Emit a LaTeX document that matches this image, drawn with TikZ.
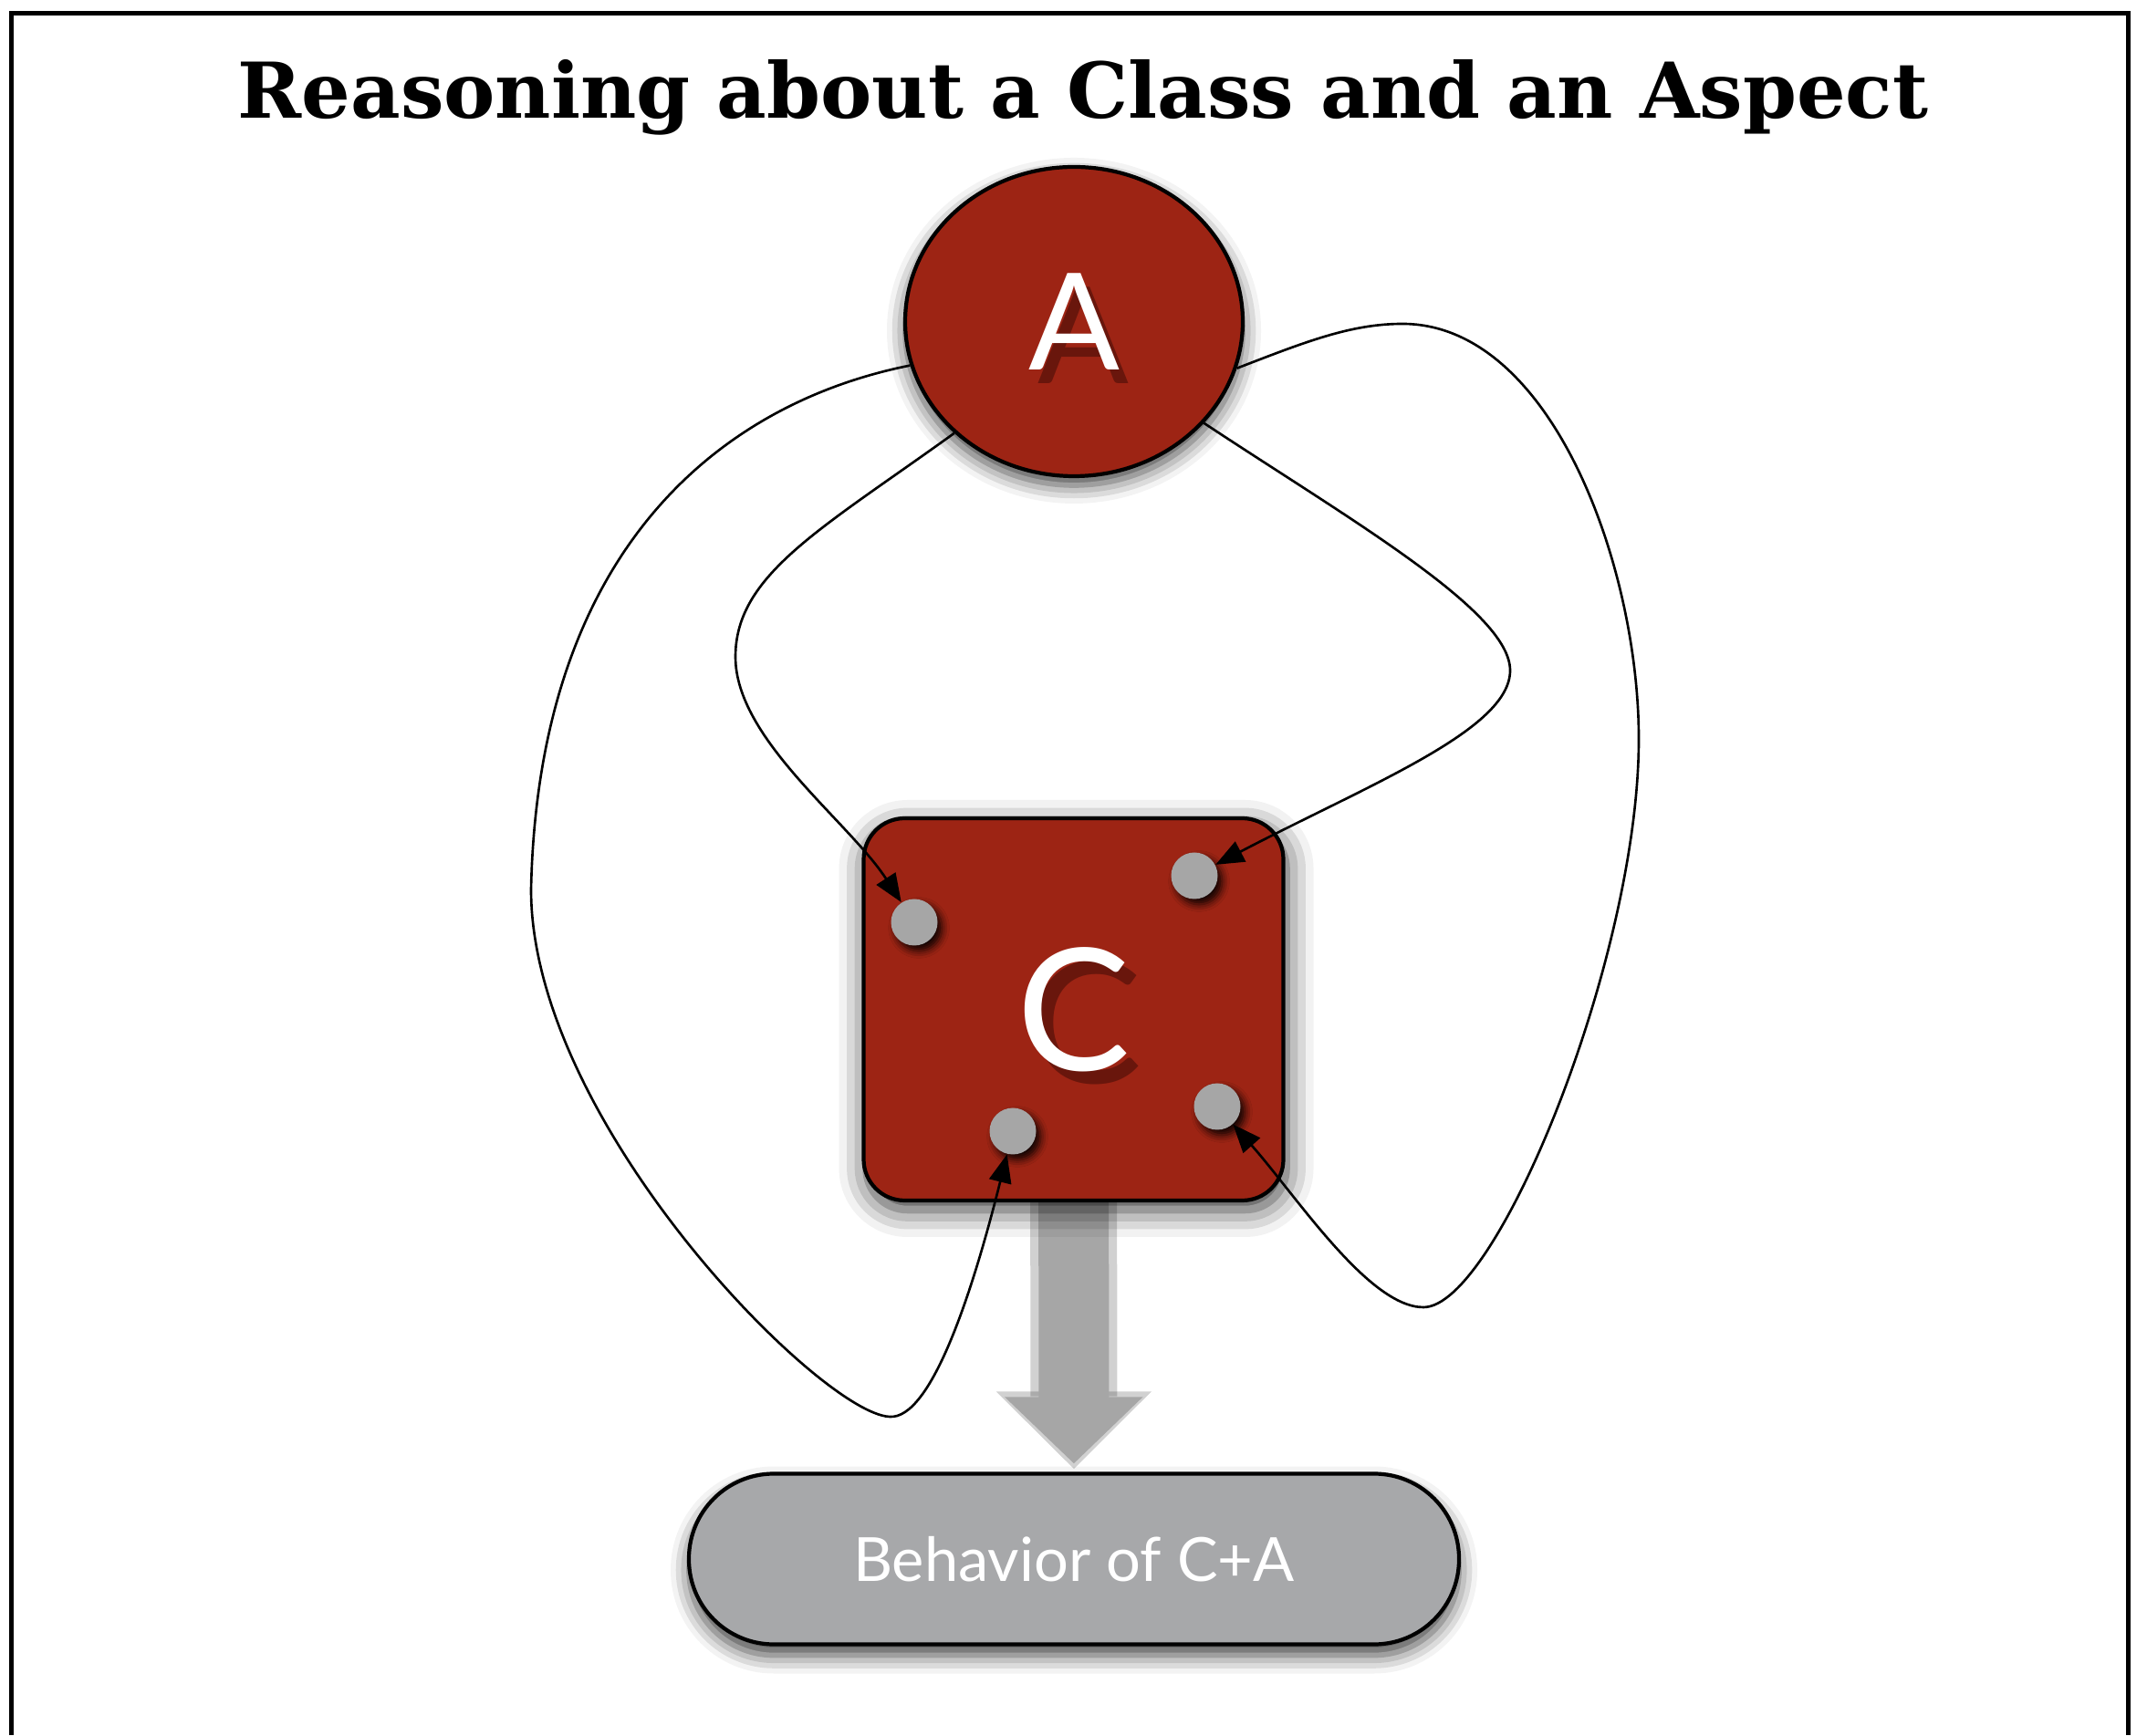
\documentclass[tikz,border=0pt]{standalone}
\usepackage{fontspec}
\newfontfamily\titlefont{DejaVu Serif}
\newfontfamily\gillfont{Lato}
\usetikzlibrary{arrows.meta,shapes.geometric,shadows.blur}
\definecolor{aspectred}{RGB}{157,36,20}
\definecolor{darkred}{RGB}{105,22,12}
\definecolor{dotgray}{RGB}{166,166,166}
\definecolor{pillgray}{RGB}{167,168,170}
\newcommand{\embossed}[4]{\makebox[0pt][l]{\hspace*{#3}\raisebox{#4}[0pt][0pt]{\color{#2}#1}}#1}
\pgfdeclarelayer{background}
\pgfsetlayers{background,main}
\begin{document}
\begin{tikzpicture}[
  aspect/.style={ellipse, draw, line width=1.2pt, fill=aspectred, text=white,
    minimum width=3.7cm, minimum height=3.39cm, inner sep=0pt,
    font=\gillfont\fontsize{42}{42}\selectfont,
    blur shadow={shadow xshift=0cm, shadow yshift=-0.1cm, shadow blur radius=0.2cm, shadow opacity=75}},
  classbox/.style={rectangle, rounded corners=0.45cm, draw, line width=1.2pt, fill=aspectred, text=white,
    minimum width=4.6cm, minimum height=4.19cm, inner sep=0pt,
    font=\gillfont\fontsize{53}{53}\selectfont,
    blur shadow={shadow xshift=0.03cm, shadow yshift=-0.1cm, shadow blur radius=0.3cm, shadow opacity=80}},
  joinpt/.style={circle, fill=dotgray, minimum size=0.51cm, inner sep=0pt,
    blur shadow={shadow xshift=0.05cm, shadow yshift=-0.06cm, shadow blur radius=0.08cm, shadow opacity=90}},
  result/.style={rectangle, rounded corners=0.93cm, draw, line width=1.2pt, fill=pillgray, text=white,
    minimum width=8.44cm, minimum height=1.87cm, inner sep=0pt,
    font=\gillfont\fontsize{19}{19}\selectfont,
    blur shadow={shadow xshift=0cm, shadow yshift=-0.12cm, shadow blur radius=0.2cm, shadow opacity=75}},
  advice/.style={line width=0.75pt, -{Triangle[length=8.8pt,width=7pt]}},
  flow/.style={line width=0.77cm, draw=dotgray, -{Triangle[length=7.3mm 0,width=14.7mm 0]}, shorten >=0.09cm,
    preaction={draw=black, opacity=0.18, line width=0.95cm, -{Triangle[length=8.5mm 0,width=16.5mm 0]}, shorten >=0.03cm}}
]
  \useasboundingbox (0,0) rectangle (23.53,19.02);
  \draw[line width=1.42pt] (0.125,0) -- (0.125,18.87) -- (23.32,18.87) -- (23.32,0);
  \node (title) at (11.87,17.72) [anchor=base] {\titlefont\bfseries\fontsize{24}{24}\selectfont Reasoning about a Class and an Aspect};
  \node (a) at (11.77,15.495) [aspect] {\embossed{A}{darkred}{0.10cm}{-0.15cm}};
  \node (c) at (11.765,7.955) [classbox] {\embossed{C}{darkred}{0.13cm}{-0.14cm}};
  \node (p1) at (10.02,8.91) [joinpt] {};
  \node (p2) at (13.09,9.42) [joinpt] {};
  \node (p3) at (11.10,6.62) [joinpt] {};
  \node (p4) at (13.34,6.89) [joinpt] {};
  \node (beh) at (11.77,1.93) [result] {Behavior of C+A};
  \begin{pgfonlayer}{background}
    \draw[flow] (c) -- (beh);
  \end{pgfonlayer}
  \draw[advice] (a.195) .. controls (7.90,14.60) and (5.90,13.00) .. (5.82,9.27)
    .. controls (5.82,6.72) and (9.00,3.52) .. (9.75,3.49)
    .. controls (10.20,3.46) and (10.65,4.82) .. (p3);
  \draw[advice] (a.223) .. controls (9.00,13.22) and (8.06,12.72) .. (8.06,11.82)
    .. controls (8.06,10.92) and (9.30,10.02) .. (p1);
  \draw[advice] (a.322) .. controls (14.80,13.32) and (16.55,12.32) .. (16.55,11.67)
    .. controls (16.55,11.02) and (15.00,10.42) .. (p2);
  \draw[advice] (a.344) .. controls (14.30,15.27) and (14.80,15.47) .. (15.37,15.47)
    .. controls (17.00,15.47) and (17.96,12.82) .. (17.96,10.92)
    .. controls (17.96,8.52) and (16.40,4.69) .. (15.60,4.69)
    .. controls (15.00,4.69) and (14.20,5.92) .. (p4);
\end{tikzpicture}
\end{document}
